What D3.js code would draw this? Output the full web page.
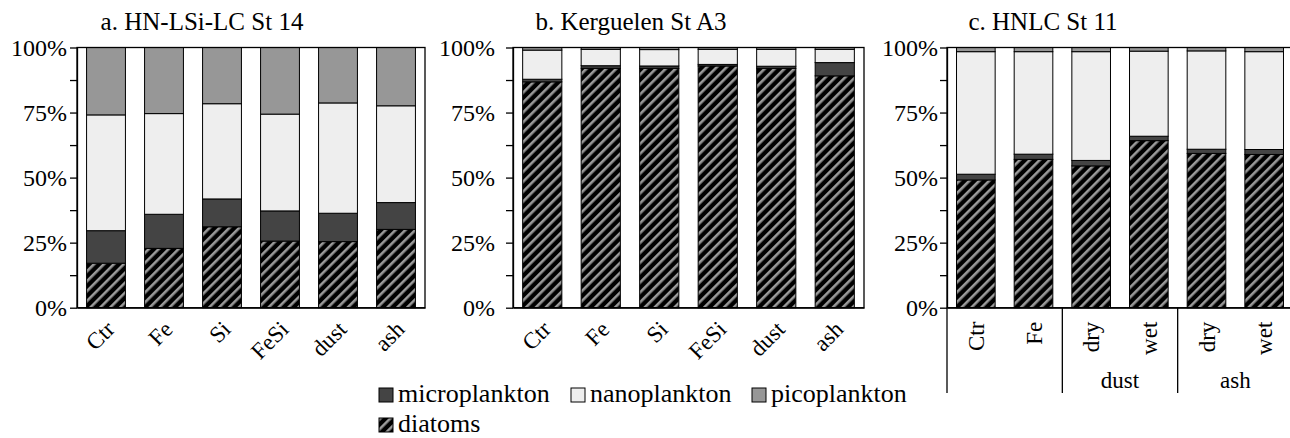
<!DOCTYPE html>
<html lang="en">
<head>
  <meta charset="UTF-8">
  <title>Phytoplankton size classes</title>
  <script src="https://d3js.org/d3.v7.min.js"></script>
  <style>
    body { margin: 0; background: #fff; }
    svg text { font-family: "Liberation Serif", "Times New Roman", serif; fill: #000; }
  </style>
</head>
<body>
  <div id="chart"></div>

  <script>
    // stacking order, bottom to top
    const stages = ["diatoms", "microplankton", "nanoplankton", "picoplankton"];

    // a. HN-LSi-LC St 14
    const catsA = ["Ctr", "Fe", "Si", "FeSi", "dust", "ash"];
    const diatomsA = [17.1, 22.8, 31.1, 25.6, 25.4, 30.1];
    const microA   = [12.5, 13.1, 10.7, 11.6, 10.9, 10.3];
    const nanoA    = [44.5, 38.7, 36.6, 37.2, 42.4, 37.2];
    const picoA    = [25.9, 25.4, 21.6, 25.6, 21.3, 22.4];

    // b. Kerguelen St A3
    const catsB = ["Ctr", "Fe", "Si", "FeSi", "dust", "ash"];
    const diatomsB = [86.8, 92.0, 92.0, 92.9, 92.0, 89.1];
    const microB   = [1.0, 1.0, 0.9, 0.6, 0.8, 5.1];
    const nanoB    = [11.2, 6.3, 6.3, 5.8, 6.5, 5.1];
    const picoB    = [1.0, 0.7, 0.8, 0.7, 0.7, 0.7];

    // c. HNLC St 11
    const catsC = ["Ctr", "Fe", "dust dry", "dust wet", "ash dry", "ash wet"];
    const labelsC = ["Ctr", "Fe", "dry", "wet", "dry", "wet"];
    const groupNamesC = ["", "dust", "ash"];
    const groupSizesC = [2, 2, 2];
    const diatomsC = [49.1, 57.0, 54.5, 64.2, 59.3, 58.9];
    const microC   = [2.2, 2.0, 2.1, 1.7, 1.6, 1.9];
    const nanoC    = [47.1, 39.4, 41.8, 32.7, 37.8, 37.6];
    const picoC    = [1.6, 1.6, 1.6, 1.4, 1.3, 1.6];

    const yTicks = [0, 12.5, 25, 37.5, 50, 62.5, 75, 87.5, 100];

    const serif = '"Liberation Serif", "Times New Roman", serif';
    const width = 1290, height = 438;
    const svg = d3.select("#chart").append("svg")
      .attr("width", width)
      .attr("height", height)
      .attr("font-family", serif);

    // diagonal hatch for diatoms
    const defs = svg.append("defs");
    const pat = defs.append("pattern")
      .attr("id", "hatch")
      .attr("patternUnits", "userSpaceOnUse")
      .attr("width", 7)
      .attr("height", 7)
      .attr("patternTransform", "rotate(45)");
    pat.append("rect").attr("width", 7).attr("height", 7).attr("fill", "#000");
    pat.append("rect").attr("width", 2.6).attr("height", 7).attr("fill", "#9a9a9a");

    const fills = {
      diatoms: "url(#hatch)",
      microplankton: "#444444",
      nanoplankton: "#eeeeee",
      picoplankton: "#979797"
    };

    const y = d3.scaleLinear().domain([0, 100]).range([307.7, 47.5]);

    function panel(opts) {
      const rows = opts.cats.map((c, i) => ({
        cat: c,
        diatoms: opts.diatoms[i],
        microplankton: opts.micro[i],
        nanoplankton: opts.nano[i],
        picoplankton: opts.pico[i]
      }));
      const series = d3.stack().keys(stages)(rows);

      const x = d3.scaleBand()
        .domain(opts.cats)
        .range([opts.x0, opts.x1])
        .paddingInner(0.33)
        .paddingOuter(0.165);

      const g = svg.append("g");

      g.append("g")
        .selectAll("g")
        .data(series)
        .join("g")
          .attr("fill", d => fills[d.key])
        .selectAll("rect")
        .data(d => d)
        .join("rect")
          .attr("x", d => x(d.data.cat))
          .attr("y", d => y(d[1]))
          .attr("width", x.bandwidth())
          .attr("height", d => y(d[0]) - y(d[1]))
          .attr("stroke", "#000")
          .attr("stroke-width", 1);

      // plot frame
      g.append("rect")
        .attr("x", opts.x0)
        .attr("y", y(100))
        .attr("width", opts.x1 - opts.x0)
        .attr("height", y(0) - y(100))
        .attr("fill", "none")
        .attr("stroke", "#000")
        .attr("stroke-width", 1.3);

      const yAxis = g.append("g")
        .attr("transform", `translate(${opts.x0},0)`)
        .call(d3.axisLeft(y)
          .tickValues(yTicks)
          .tickFormat(d => d % 25 === 0 ? d + "%" : "")
          .tickSize(7)
          .tickSizeOuter(0)
          .tickPadding(opts.pad));
      yAxis.attr("font-family", serif);
      yAxis.selectAll("text").attr("font-size", 24);
      yAxis.selectAll("line,path").attr("stroke", "#000").attr("stroke-width", 1.3);

      const xAxis = g.append("g")
        .attr("transform", `translate(0,${y(0)})`)
        .call(d3.axisBottom(x)
          .tickSize(0)
          .tickSizeOuter(0)
          .tickFormat((d, i) => opts.labels ? opts.labels[i] : d));
      xAxis.attr("font-family", serif);
      xAxis.select(".domain").attr("stroke", "#000").attr("stroke-width", 1.3);
      xAxis.selectAll("text")
        .attr("font-size", 23)
        .attr("x", null)
        .attr("y", null)
        .attr("dy", null)
        .attr("text-anchor", "end")
        .attr("transform", opts.vertical ? "translate(8,14) rotate(-90)" : "translate(10,23) rotate(-45)");

      // title
      g.append("text")
        .attr("x", opts.titleX)
        .attr("y", 30)
        .attr("text-anchor", "middle")
        .attr("font-size", 25)
        .text(opts.title);

      return { g, x };
    }

    panel({ cats: catsA, diatoms: diatomsA, micro: microA, nano: nanoA, pico: picoA,
      x0: 77, x1: 425, pad: 3, titleX: 202, title: "a. HN-LSi-LC St 14" });

    panel({ cats: catsB, diatoms: diatomsB, micro: microB, nano: nanoB, pico: picoB,
      x0: 513, x1: 864, pad: 11, titleX: 631, title: "b. Kerguelen St A3" });

    const pc = panel({ cats: catsC, labels: labelsC, diatoms: diatomsC, micro: microC, nano: nanoC, pico: picoC,
      x0: 947, x1: 1293, pad: 2, titleX: 1043, title: "c. HNLC St 11", vertical: true });

    // multi-level category axis for panel c
    const xc = pc.x;
    const stepC = xc.step();
    let start = 0;
    const bounds = [];
    groupSizesC.forEach((n, gi) => {
      const left = xc(catsC[start]) - stepC * xc.paddingInner() / 2;
      const right = left + n * stepC;
      bounds.push(left);
      if (groupNamesC[gi]) {
        pc.g.append("text")
          .attr("x", (left + right) / 2)
          .attr("y", 388)
          .attr("text-anchor", "middle")
          .attr("font-size", 23)
          .text(groupNamesC[gi]);
      }
      start += n;
    });
    pc.g.selectAll("line.sep")
      .data(bounds)
      .join("line")
        .attr("class", "sep")
        .attr("x1", d => d)
        .attr("x2", d => d)
        .attr("y1", y(0))
        .attr("y2", 393)
        .attr("stroke", "#000")
        .attr("stroke-width", 1.3);

    // legend
    const legendItems = [
      { key: "microplankton", x: 379, y: 388 },
      { key: "nanoplankton", x: 571, y: 388 },
      { key: "picoplankton", x: 752, y: 388 },
      { key: "diatoms", x: 379, y: 418 }
    ];
    const leg = svg.append("g")
      .selectAll("g")
      .data(legendItems)
      .join("g")
        .attr("transform", d => `translate(${d.x},${d.y})`);
    leg.append("rect")
      .attr("width", 14)
      .attr("height", 14)
      .attr("fill", d => fills[d.key])
      .attr("stroke", "#000")
      .attr("stroke-width", 1);
    leg.append("text")
      .attr("x", 19)
      .attr("y", 14)
      .attr("font-size", 26)
      .text(d => d.key);
  </script>
</body>
</html>
